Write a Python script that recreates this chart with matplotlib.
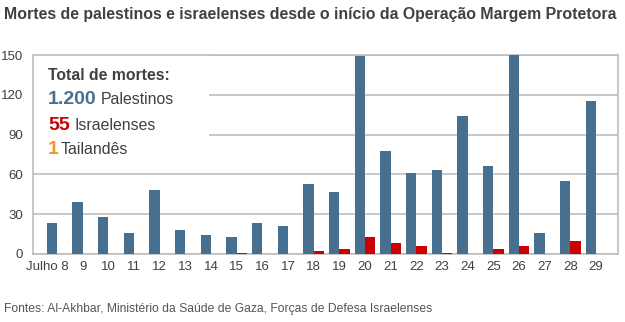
import matplotlib.pyplot as plt
from matplotlib.patches import Rectangle
import matplotlib.transforms as mtransforms

plt.rcParams['font.family'] = ['Liberation Sans', 'DejaVu Sans']

days = ["Julho 8", "9", "10", "11", "12", "13", "14", "15", "16", "17", "18",
        "19", "20", "21", "22", "23", "24", "25", "26", "27", "28", "29"]
palestinos = [23, 39, 28, 16, 48, 18, 14, 13, 23, 21, 53,
              47, 149, 78, 61, 63, 104, 66, 150, 16, 55, 115]
israelenses = [0, 0, 0, 0, 0, 0, 0, 1, 0, 0, 2,
               4, 13, 8, 6, 1, 0, 4, 6, 0, 10, 0]
yticks = [0, 30, 60, 90, 120, 150]

BLUE = "#476f8f"
RED = "#cc0000"
ORANGE = "#f7941d"
GRID = "#bdbdbd"
TEXT = "#404040"

W, H = 625, 322
fig = plt.figure(figsize=(W / 100, H / 100), dpi=100)
ax = fig.add_axes([33 / W, 1 - 254 / H, (618 - 33) / W, (254 - 55) / H])

x = list(range(len(days)))
bw = 0.4
ax.bar([i - bw / 2 for i in x], palestinos, width=bw, color=BLUE, zorder=3)
ax.bar([i + bw / 2 for i in x], israelenses, width=bw, color=RED, zorder=3)

ax.set_xlim(-0.935, 21.86)
ax.set_ylim(0, 150)
ax.set_yticks(yticks)
ax.yaxis.grid(True, color=GRID, linewidth=1.2, zorder=0)
ax.set_axisbelow(True)
for s in ax.spines.values():
    s.set_color(GRID)
    s.set_linewidth(1.2)
ax.tick_params(length=0, labelsize=9.5, labelcolor=TEXT, pad=5)
ax.tick_params(axis='y', pad=7)
ax.set_xticks(x)
ax.set_xticklabels(days)
first = ax.get_xticklabels()[0]
first.set_horizontalalignment('right')
first.set_transform(first.get_transform() +
                    mtransforms.ScaledTranslation(12 / 100, 0, fig.dpi_scale_trans))

# white panel behind the totals
ax.add_patch(Rectangle((0, 0.56), 0.30, 0.44, transform=ax.transAxes,
                       facecolor='white', edgecolor='none', zorder=1))

fig.text(4 / W, 1 - 14 / H,
         "Mortes de palestinos e israelenses desde o início da Operação Margem Protetora",
         fontsize=11.4, fontweight='bold', color=TEXT, va='center', ha='left')
fig.text(4 / W, 1 - 309 / H,
         "Fontes: Al-Akhbar, Ministério da Saúde de Gaza, Forças de Defesa Israelenses",
         fontsize=8.7, color="#555555", va='center', ha='left')

fig.text(48 / W, 1 - 75 / H, "Total de mortes:", fontsize=11.3,
         fontweight='bold', color=TEXT, va='center')
rows = [("1.200", "Palestinos", BLUE, 100, 101),
        ("55", "Israelenses", RED, 125, 75),
        ("1", "Tailandês", ORANGE, 150, 61)]
for num, lab, col, y, xl in rows:
    fig.text(48 / W, 1 - y / H, num, fontsize=14, fontweight='bold',
             color=col, va='center')
    fig.text(xl / W, 1 - y / H, lab, fontsize=11.4, color=TEXT, va='center')

fig.savefig("out.png", dpi=100)
